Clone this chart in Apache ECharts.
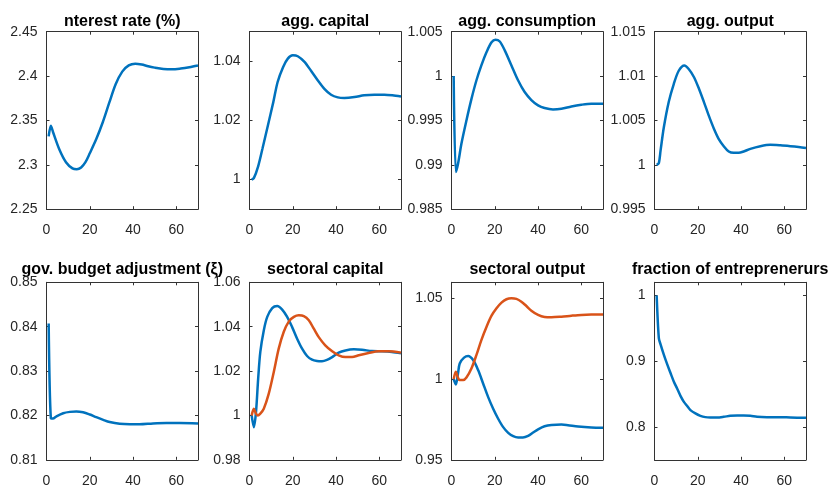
<!DOCTYPE html>
<html><head><meta charset="utf-8">
<script src="https://cdn.jsdelivr.net/npm/echarts@6/dist/echarts.min.js"></script>
<style>html,body{margin:0;padding:0;background:#fff}#c{width:834px;height:489px}</style>
</head><body><div id="c"></div>
<script>
// ---- data ----
const titles = ["nterest rate (%)", "agg. capital", "agg. consumption", "agg. output",
  "gov. budget adjustment (ξ)", "sectoral capital", "sectoral output", "fraction of entreprenerurs"];
const xTicks = [0, 20, 40, 60];

const interestX = [1,2,3,6,9,12,14,16,18,20,23,26,29,32,35,38,41,44,47,50,54,58,62,66,70];
const interestY = [2.332,2.344,2.337,2.317,2.303,2.296,2.295,2.297,2.303,2.313,2.329,2.348,2.370,2.391,2.405,2.412,2.414,2.413,2.411,2.4095,2.408,2.4076,2.4085,2.410,2.412];
const interestTicks = [2.25,2.3,2.35,2.4,2.45];

const capitalX = [1,2,4,6,8.5,11,13,15.5,17.7,20,22.3,25.4,28.5,31.5,34.6,37.7,40.8,43.8,48.5,53,57.7,62.3,66,70];
const capitalY = [1.000,1.0005,1.0045,1.0105,1.0183,1.0262,1.033,1.038,1.0409,1.042,1.0417,1.0398,1.0367,1.0336,1.0307,1.0287,1.0278,1.0276,1.0279,1.0285,1.0287,1.0287,1.0285,1.0281];
const capitalTicks = [1, 1.02, 1.04];

const consX = [1,2,3,4.6,6.9,9.2,11.5,13.8,16.2,18.5,20.3,22.3,24.6,27.7,30.8,33.8,36.9,40,43,46.9,50.8,55.4,60,64.6,70];
const consY = [1.0,0.9892,0.9901,0.9924,0.9950,0.9974,0.9995,1.0012,1.0027,1.0038,1.0041,1.0039,1.0029,1.0012,0.9995,0.9982,0.9973,0.9967,0.9964,0.99624,0.99632,0.99658,0.99677,0.99688,0.99688];
const consTicks = [0.985,0.99,0.995,1,1.005];

const outX = [1,2,2.8,4.3,6.6,8.9,11.2,13.8,15.8,18.2,20.5,22.8,25,27.4,29.7,32,34.3,36.6,38.9,41.2,44.3,48.9,53.5,58.2,62.8,66.6,70];
const outY = [1.0,1.0002,1.0016,1.0042,1.0071,1.0091,1.0106,1.0112,1.0108,1.0099,1.0086,1.0071,1.0056,1.0041,1.0029,1.0021,1.0015,1.00135,1.00135,1.0015,1.0018,1.0021,1.00226,1.0022,1.0021,1.002,1.0019];
const outTicks = [0.995,1,1.005,1.01,1.015];

const govX = [1,2,3,4.6,7.7,10.8,13.8,16.9,20,23,26.2,29.2,33.8,38.5,43,49.2,55.4,61.5,70];
const govY = [0.8407,0.8194,0.8193,0.8198,0.8205,0.8208,0.8209,0.8207,0.8202,0.8196,0.8190,0.8185,0.8181,0.8180,0.8180,0.8182,0.8183,0.8183,0.8182];
const govTicks = [0.81,0.82,0.83,0.84,0.85];

const secCapAX = [1,2,3,4,5,6.6,8.2,10.5,12.8,15.1,17.4,19.7,22,24.3,26.6,28.9,31.2,33.5,35.8,38.2,41.2,44.3,48.2,52,56.6,61.2,65.8,70];
const secCapAY = [1.0,0.9947,1.0015,1.0165,1.0286,1.0383,1.0444,1.0484,1.0493,1.0477,1.0444,1.0398,1.0346,1.0301,1.0268,1.0251,1.0245,1.0244,1.025,1.0263,1.0283,1.0293,1.0298,1.0296,1.029,1.0289,1.0286,1.028];
const secCapBX = [1,2,3,3.8,5,6.6,8.9,11.2,13.5,15.8,18.2,20.5,22.8,25.1,27.4,29.7,32,35,38.2,41.2,44.3,47.4,50.5,55,59.7,64.3,70];
const secCapBY = [1.0,1.003,1.0008,1.0,1.0008,1.003,1.0098,1.0195,1.0301,1.0376,1.0424,1.0444,1.0451,1.0448,1.0429,1.0391,1.0353,1.0316,1.0289,1.0271,1.0263,1.0263,1.0271,1.0281,1.0289,1.0289,1.0283];
const secCapTicks = [0.98,1,1.02,1.04,1.06];

const secOutAX = [1,2,3,3.8,5.8,7.7,10,12.3,14.6,16.9,19.2,21.5,23.8,26.2,28.5,30.8,33,35.4,37.7,40,43,46.2,50.8,53.8,58.5,64.6,70];
const secOutAY = [1.0,0.9967,1.0035,1.0097,1.0133,1.0143,1.0118,1.0056,0.9973,0.989,0.9818,0.9756,0.9704,0.9667,0.9646,0.9638,0.9638,0.9648,0.9669,0.9689,0.9708,0.9716,0.9718,0.9714,0.9706,0.970,0.9698];
const secOutBX = [1,2,3,3.8,5.4,6.9,9.2,11.5,13.8,16.2,18.5,20.8,23.1,25.4,27.7,30,32.3,34.6,36.9,40,43,46.2,50.8,55.4,60,64.6,70];
const secOutBY = [1.0,1.0046,1.0008,0.9994,0.9994,1.001,1.0066,1.0149,1.0242,1.0325,1.0393,1.0439,1.0474,1.0495,1.0501,1.0497,1.048,1.0453,1.0424,1.0398,1.0385,1.0383,1.0387,1.0393,1.0398,1.04,1.04];
const secOutTicks = [0.95,1,1.05];

const fracX = [1,2,2.8,4.3,5.8,7.4,8.9,10.5,12,13.5,15.1,16.6,18.9,21.2,23.5,25.8,28.9,32,35,38.2,41.2,44.3,47.4,52,56.6,62.8,70];
const fracY = [1.0,0.935,0.9256,0.910,0.8959,0.882,0.8692,0.858,0.8472,0.8385,0.8318,0.8256,0.8205,0.8169,0.8149,0.8144,0.8144,0.8154,0.8169,0.8174,0.8174,0.8169,0.8154,0.8149,0.8149,0.8144,0.8138];
const fracTicks = [0.8,0.9,1];

// ---- build ----
const BLUE = '#0072BD', ORANGE = '#D95319';
const pairs = (xs, ys) => xs.map((x, i) => [x, ys[i]]);
const panels = [
  {ymin:2.25, ymax:2.45, ticks:interestTicks, lines:[[interestX, interestY, BLUE]]},
  {ymin:0.99, ymax:1.05, ticks:capitalTicks, lines:[[capitalX, capitalY, BLUE]]},
  {ymin:0.985, ymax:1.005, ticks:consTicks, lines:[[consX, consY, BLUE]]},
  {ymin:0.995, ymax:1.015, ticks:outTicks, lines:[[outX, outY, BLUE]]},
  {ymin:0.81, ymax:0.85, ticks:govTicks, lines:[[govX, govY, BLUE]]},
  {ymin:0.98, ymax:1.06, ticks:secCapTicks, lines:[[secCapAX, secCapAY, BLUE],[secCapBX, secCapBY, ORANGE]]},
  {ymin:0.95, ymax:1.06, ticks:secOutTicks, lines:[[secOutAX, secOutAY, BLUE],[secOutBX, secOutBY, ORANGE]]},
  {ymin:0.75, ymax:1.02, ticks:fracTicks, lines:[[fracX, fracY, BLUE]]}
];
const lefts = [46.5, 249.5, 451.5, 654.5];
const tops = [31.7, 282.3];
const titleY = [29.5, 277.5];
const W = 151.5, H = 177.5;
const FONT = 'Liberation Sans, Arial, Helvetica, sans-serif';
const AX = '#333333', LBL = '#262626';
const fmt = v => String(+(+v).toFixed(6));

const grid = [], xAxis = [], yAxis = [], series = [], graphic = [];
panels.forEach((p, i) => {
  const r = Math.floor(i / 4), c = i % 4;
  grid.push({left: lefts[c], top: tops[r], width: W, height: H, containLabel: false});
  const xa = (pos, show) => ({
    type: 'value', gridIndex: i, position: pos, min: 0, max: 70,
    axisLine: {show: true, onZero: false, lineStyle: {color: AX, width: 1}},
    axisTick: {show: true, inside: true, length: 3, customValues: xTicks, lineStyle: {color: AX}},
    axisLabel: {show: show, customValues: xTicks, margin: 14, fontSize: 14, color: LBL, fontFamily: FONT, formatter: fmt},
    splitLine: {show: false}
  });
  const ya = (pos, show) => ({
    type: 'value', gridIndex: i, position: pos, min: p.ymin, max: p.ymax,
    axisLine: {show: true, onZero: false, lineStyle: {color: AX, width: 1}},
    axisTick: {show: true, inside: true, length: 3, customValues: p.ticks, lineStyle: {color: AX}},
    axisLabel: {show: show, customValues: p.ticks, margin: 9, fontSize: 14, color: LBL, fontFamily: FONT, formatter: fmt},
    splitLine: {show: false}
  });
  const xi = xAxis.length; xAxis.push(xa('bottom', true)); xAxis.push(xa('top', false));
  const yi = yAxis.length; yAxis.push(ya('left', true)); yAxis.push(ya('right', false));
  p.lines.forEach(([xs, ys, col]) => {
    series.push({type: 'line', xAxisIndex: xi, yAxisIndex: yi, data: pairs(xs, ys),
      showSymbol: false, smooth: 0.3, lineStyle: {color: col, width: 2.5}, itemStyle: {color: col},
      silent: true, animation: false});
  });
  graphic.push({type: 'text', x: lefts[c] + W / 2, y: titleY[r],
    style: {text: titles[i], align: 'center', verticalAlign: 'bottom', font: 'bold 16px ' + FONT, fill: '#000'}});
});

const chart = echarts.init(document.getElementById('c'), null, {renderer: 'canvas'});
chart.setOption({animation: false, backgroundColor: '#fff', grid, xAxis, yAxis, series, graphic});
</script></body></html>
